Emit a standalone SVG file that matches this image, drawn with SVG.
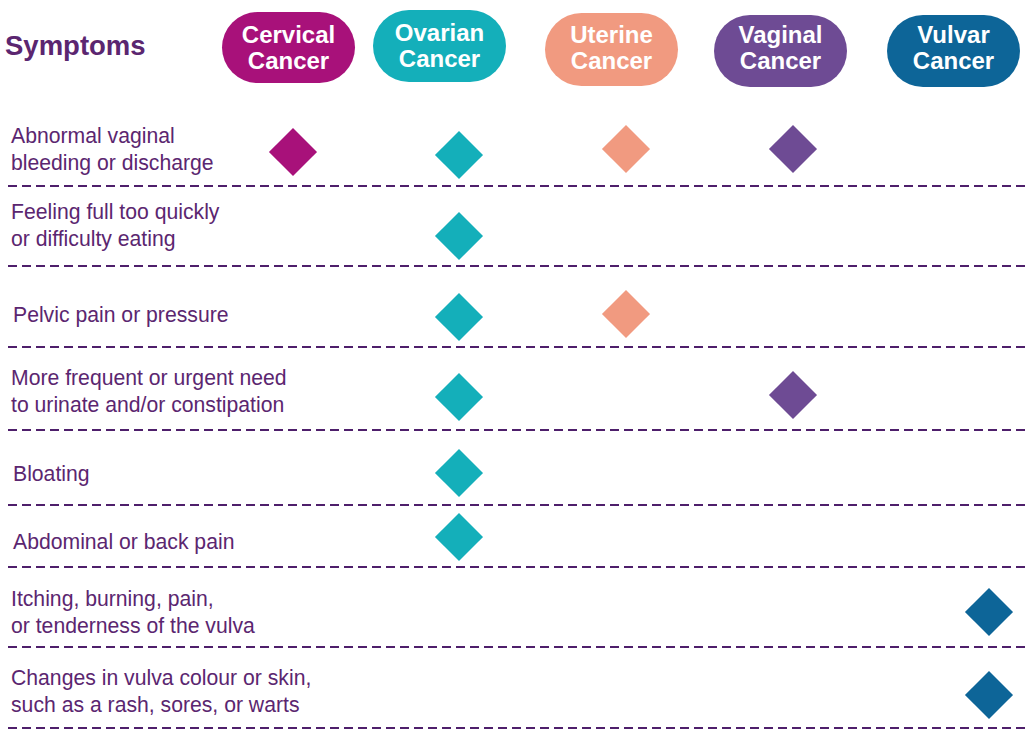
<svg xmlns="http://www.w3.org/2000/svg" width="1036" height="737" viewBox="0 0 1036 737">
<style>
text{font-family:"Liberation Sans",Arial,sans-serif}
.t{fill:#5b2670;font-size:21.2px}
.h{fill:#fff;font-size:24px;font-weight:bold;text-anchor:middle}
.d{stroke:#4e1f6b;stroke-width:2;stroke-dasharray:9 5}
</style>
<defs><rect id="dm" x="-17" y="-17" width="34" height="34" transform="rotate(45)"/></defs>
<rect width="1036" height="737" fill="#fff"/>
<text x="5" y="55" style="fill:#5b2670;font-size:27.5px;font-weight:bold">Symptoms</text>
<g id="cervical"><rect x="222" y="12" width="133" height="71" rx="35.5" fill="#a8117a"/><text class="h" x="288.5" y="43">Cervical</text><text class="h" x="288.5" y="69">Cancer</text></g>
<g id="ovarian"><rect x="373" y="10" width="133" height="72" rx="36" fill="#14afba"/><text class="h" x="439.5" y="41">Ovarian</text><text class="h" x="439.5" y="67">Cancer</text></g>
<g id="uterine"><rect x="545" y="13" width="133" height="73" rx="36.5" fill="#f19a80"/><text class="h" x="611.5" y="43">Uterine</text><text class="h" x="611.5" y="69">Cancer</text></g>
<g id="vaginal"><rect x="714" y="15" width="133" height="72" rx="36" fill="#6e4b94"/><text class="h" x="780.5" y="43">Vaginal</text><text class="h" x="780.5" y="69">Cancer</text></g>
<g id="vulvar"><rect x="887" y="15" width="133" height="72" rx="36" fill="#0d6598"/><text class="h" x="953.5" y="43">Vulvar</text><text class="h" x="953.5" y="69">Cancer</text></g>
<g id="lines">
<line class="d" x1="8" y1="186" x2="1030" y2="186"/>
<line class="d" x1="8" y1="266" x2="1030" y2="266"/>
<line class="d" x1="8" y1="347" x2="1030" y2="347"/>
<line class="d" x1="8" y1="430" x2="1030" y2="430"/>
<line class="d" x1="8" y1="505" x2="1030" y2="505"/>
<line class="d" x1="8" y1="567" x2="1030" y2="567"/>
<line class="d" x1="8" y1="647" x2="1030" y2="647"/>
<line class="d" x1="8" y1="728" x2="1030" y2="728"/>
</g>
<g id="labels" class="t">
<text class="t" x="11" y="143">Abnormal vaginal</text><text class="t" x="11" y="170">bleeding or discharge</text>
<text class="t" x="11" y="219">Feeling full too quickly</text><text class="t" x="11" y="246">or difficulty eating</text>
<text class="t" x="13" y="322">Pelvic pain or pressure</text>
<text class="t" x="11" y="385">More frequent or urgent need</text><text class="t" x="11" y="412">to urinate and/or constipation</text>
<text class="t" x="13" y="481">Bloating</text>
<text class="t" x="13" y="549">Abdominal or back pain</text>
<text class="t" x="11" y="606">Itching, burning, pain,</text><text class="t" x="11" y="633">or tenderness of the vulva</text>
<text class="t" x="11" y="685">Changes in vulva colour or skin,</text><text class="t" x="11" y="712">such as a rash, sores, or warts</text>
</g>
<g id="marks">
<use href="#dm" x="293" y="152" fill="#a8117a"/>
<use href="#dm" x="459" y="155" fill="#14afba"/>
<use href="#dm" x="626" y="149" fill="#f19a80"/>
<use href="#dm" x="793" y="149" fill="#6e4b94"/>
<use href="#dm" x="459" y="236" fill="#14afba"/>
<use href="#dm" x="459" y="317" fill="#14afba"/>
<use href="#dm" x="626" y="314" fill="#f19a80"/>
<use href="#dm" x="459" y="397" fill="#14afba"/>
<use href="#dm" x="793" y="395" fill="#6e4b94"/>
<use href="#dm" x="459" y="473" fill="#14afba"/>
<use href="#dm" x="459" y="537" fill="#14afba"/>
<use href="#dm" x="989" y="612" fill="#0d6598"/>
<use href="#dm" x="989" y="695" fill="#0d6598"/>
</g>
</svg>
